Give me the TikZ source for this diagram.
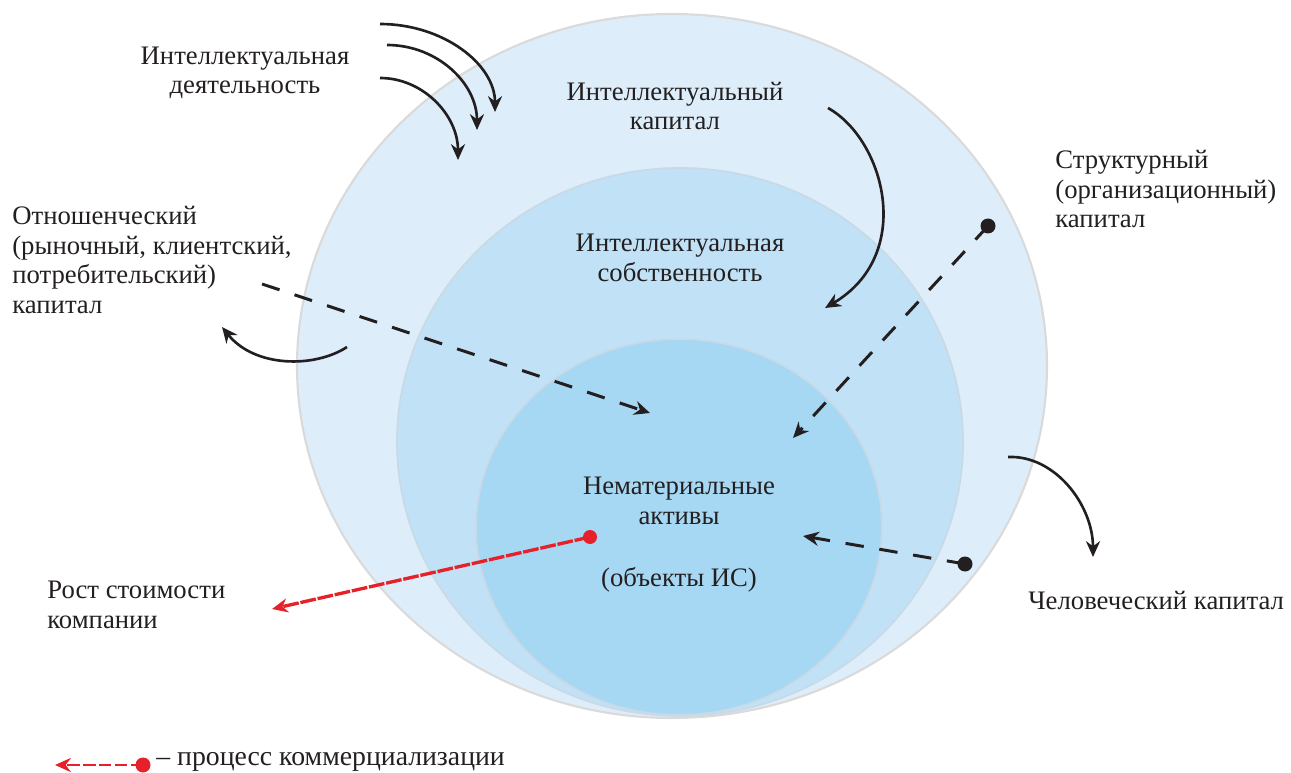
\documentclass[tikz,border=0pt]{standalone}
\usepackage{fontspec}
\setmainfont{Liberation Serif}
\usepackage{xcolor}
\usetikzlibrary{arrows.meta}
\definecolor{outerblue}{HTML}{DDEEFA}
\definecolor{midblue}{HTML}{C1E2F6}
\definecolor{innerblue}{HTML}{A7D8F3}
\definecolor{rimgray}{HTML}{DADADA}
\definecolor{rimblue}{HTML}{C9D9E6}
\definecolor{inkblack}{HTML}{231F20}
\definecolor{commred}{HTML}{E62129}
\tikzset{>={Stealth[length=9pt,width=8pt]}}

\begin{document}
\begin{tikzpicture}[x=0.02cm, y=-0.02cm, font=\fontsize{15.2}{16.8}\selectfont, text=inkblack,
	flow/.style={->, line width=1.5pt, draw=inkblack},
	dflow/.style={->, line width=1.7pt, draw=inkblack, dash pattern=on 10.5pt off 9pt},
	rflow/.style={->, line width=1.9pt, draw=commred, dash pattern=on 9pt off 1pt}]

	\useasboundingbox (0,0) rectangle (1291,773);

	%% Sfere
	\filldraw[fill=outerblue, draw=rimgray, line width=1.2pt]
	(672,366) ellipse [x radius=375, y radius=352];
	\filldraw[fill=midblue, draw=rimblue, line width=1pt]
	(680,442) ellipse [x radius=283, y radius=274];
	\filldraw[fill=innerblue, draw=rimblue, line width=1pt]
	(679,527) ellipse [x radius=203, y radius=188];

	%% Testi
	\node[align=center] (ia) at (245,73) {Интеллектуальная\\деятельность};
	\node[align=center] (ic) at (675,106) {Интеллектуальный\\капитал};
	\node[align=left, anchor=west, inner sep=0pt] (sc) at (1055,189)
	{Структурный\\(организационный)\\капитал};
	\node[align=left, anchor=west, inner sep=0pt] (rc) at (12,260)
	{Отношенческий\\(рыночный, клиентский,\\потребительский)\\капитал};
	\node[align=center] (ip) at (680,258) {Интеллектуальная\\собственность};
	\node[align=center] (na) at (679,501) {Нематериальные\\активы};
	\node (ob) at (679,580) {(объекты ИС)};
	\node[align=left, anchor=west, inner sep=0pt] (rs) at (47,605)
	{Рост стоимости\\компании};
	\node[anchor=west, inner sep=0pt] (hc) at (1028,600) {Человеческий капитал};

	%% Punti
	\coordinate (a1) at (380,24);   \coordinate (a2) at (495,112);
	\coordinate (b1) at (387,45);   \coordinate (b2) at (477,130);
	\coordinate (c1) at (380,78);   \coordinate (c2) at (458,160);
	\coordinate (k1) at (828,108);  \coordinate (k2) at (825,308);
	\coordinate (r1) at (347,347);  \coordinate (r2) at (222,327);
	\coordinate (h1) at (1008,457); \coordinate (h2) at (1093,557);
	\coordinate (d1) at (262,284);  \coordinate (d2) at (650,413);
	\coordinate (s1) at (988,226);  \coordinate (s2) at (793,438);
	\coordinate (u1) at (965,564);  \coordinate (u2) at (803,536);
	\coordinate (v1) at (590,537);  \coordinate (v2) at (272,609);

	% Frecce curve
	\draw[flow] (a1) .. controls (443,24) and (495,64) .. (a2);
	\draw[flow] (b1) .. controls (437,45) and (477,83) .. (b2);
	\draw[flow] (c1) .. controls (423,78) and (458,115) .. (c2);
	\draw[flow] (k1) .. controls (885,140) and (915,255) .. (k2);
	\draw[flow] (r1) .. controls (315,368) and (255,368) .. (r2);
	\draw[flow] (h1) .. controls (1055,455) and (1093,505) .. (h2);

	% Frecce tratteggiate
	\draw[dflow] (d1) -- (d2);
	\draw[dflow] (s1) -- (s2);
	\draw[dflow] (u1) -- (u2);
	\fill[inkblack] (s1) circle (7.5);
	\fill[inkblack] (u1) circle (7.5);

	% Commercializzazione
	\draw[rflow] (v1) -- (v2);
	\fill[commred] (v1) circle (7);

	%% Legenda
	\coordinate (lt) at (55,765);
	\coordinate (ld) at (143,765);
	\draw[rflow, line width=1.6pt, dash pattern=on 7pt off 2pt] (ld) -- (lt);
	\fill[commred] (ld) circle (7.5);
	\node[anchor=west, inner sep=0pt, font=\fontsize{15.8}{17}\selectfont] (lg) at (156,762)
	{– процесс коммерциализации};

\end{tikzpicture}
\end{document}
